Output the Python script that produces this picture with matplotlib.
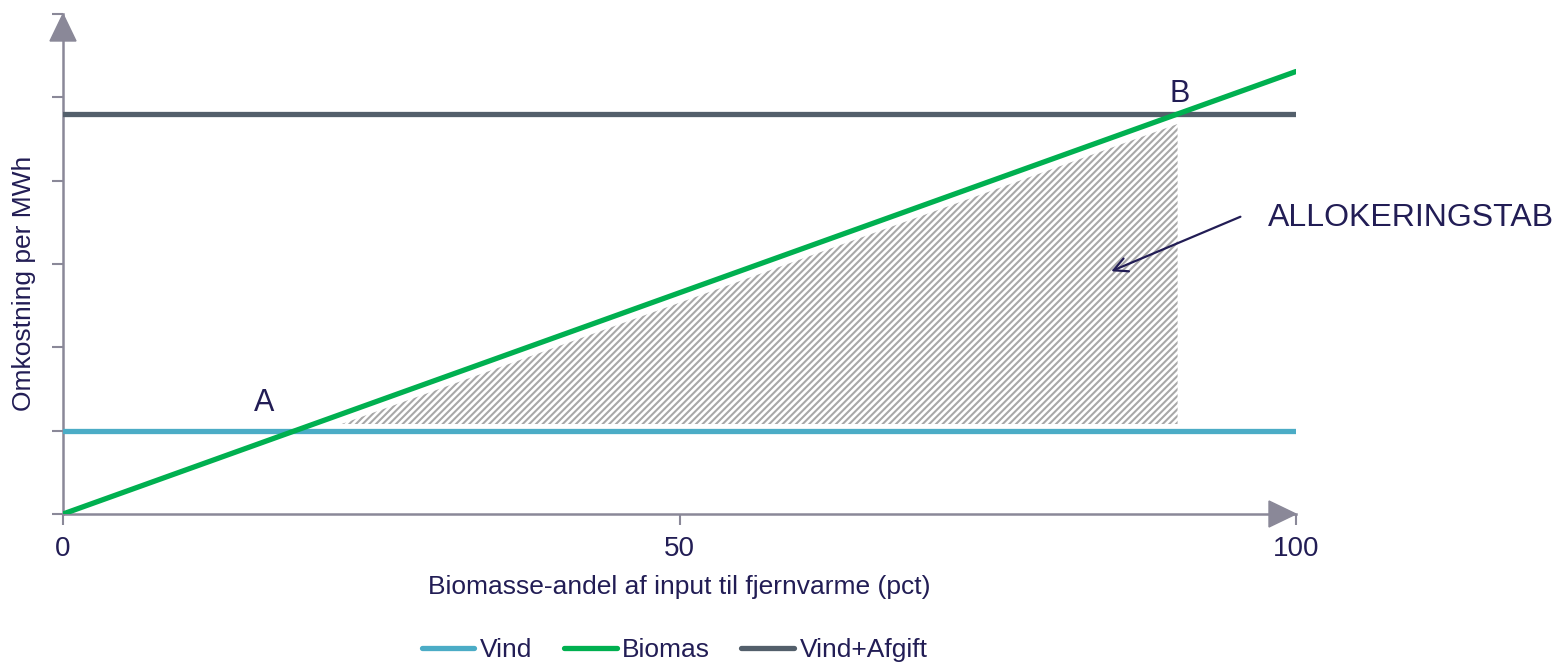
import numpy as np
import matplotlib
matplotlib.use("Agg")
import matplotlib.pyplot as plt
from matplotlib.patches import Polygon

plt.rcParams['font.family'] = ['Liberation Sans', 'DejaVu Sans']
plt.rcParams['hatch.linewidth'] = 1.5
plt.rcParams['hatch.color'] = '#a8a8a8'

# data
x_pts = [0, 100]
vind = [1.0, 1.0]
biomas = [0.0, 5.31]
vind_afgift = [4.8, 4.8]
x_ticks = [0, 50, 100]
y_ticks = [0, 1, 2, 3, 4, 5, 6]

txt = '#221d55'
axc = '#8a8898'

fig = plt.figure(figsize=(15.58, 6.63), dpi=100)
ax = fig.add_axes([63/1558, 1-514/663, (1296-63)/1558, 500/663])

# hatched area between biomas and vind, from A to B (slightly inset from the lines)
slope = (biomas[1] - biomas[0]) / (x_pts[1] - x_pts[0])
lo = vind[0] + 0.08
gap = 0.12
xa = (lo + gap) / slope
xb = vind_afgift[0] / slope
xs = np.array([xa, xb])
ax.fill_between(xs, [lo] * 2, slope * xs - gap, facecolor='white',
                edgecolor='#a8a8a8', hatch='/////', linewidth=0, zorder=1)

lw = 3.8
ax.plot(x_pts, vind, color='#4bacc6', lw=lw, solid_capstyle='round', label='Vind', zorder=3)
ax.plot(x_pts, biomas, color='#00b050', lw=lw, solid_capstyle='round', label='Biomas', zorder=4)
ax.plot(x_pts, vind_afgift, color='#535f6b', lw=lw, solid_capstyle='round', label='Vind+Afgift', zorder=3)

ax.set_xlim(0, 100)
ax.set_ylim(0, 6)
ax.set_xticks(x_ticks)
ax.set_yticks(y_ticks)
ax.set_yticklabels([])
for s in ['top', 'right']:
    ax.spines[s].set_visible(False)
for s in ['left', 'bottom']:
    ax.spines[s].set_color(axc)
    ax.spines[s].set_linewidth(1.8)
ax.tick_params(axis='both', colors=axc, length=8, width=1.5, labelcolor=txt, labelsize=20)
ax.tick_params(axis='x', pad=8)

# axis arrowheads (sizes in pixels converted to axes fraction)
aw, ah = 1233.0, 500.0
L, H = 27, 13
ax.add_patch(Polygon([(1, 0), (1 - L/aw, H/ah), (1 - L/aw, -H/ah)], closed=True,
                     transform=ax.transAxes, color=axc, clip_on=False, zorder=5))
ax.add_patch(Polygon([(0, 1), (-H/aw, 1 - L/ah), (H/aw, 1 - L/ah)], closed=True,
                     transform=ax.transAxes, color=axc, clip_on=False, zorder=5))

ax.set_xlabel('Biomasse-andel af input til fjernvarme (pct)', color=txt, fontsize=19, labelpad=9)
ax.set_ylabel('Omkostning per MWh', color=txt, fontsize=19)
ax.yaxis.set_label_coords(-0.0219, 0.462)

ax.text(16.3, 1.15, 'A', color=txt, fontsize=22, ha='center', va='bottom')
ax.text(90.6, 4.86, 'B', color=txt, fontsize=22, ha='center', va='bottom')
ax.annotate('', xy=(84.8, 2.90), xytext=(95.7, 3.58),
            arrowprops=dict(arrowstyle='->', color=txt, lw=1.6, mutation_scale=25))
ax.text(97.7, 3.55, 'ALLOKERINGSTAB', color=txt, fontsize=23, ha='left', va='center')

ax.legend(loc='lower center', bbox_to_anchor=(0.496, -0.343), ncol=3, frameon=False,
          fontsize=19, handlelength=2.0, handletextpad=0.2, columnspacing=1.2,
          labelcolor=txt)

fig.savefig('out.png', dpi=100)
